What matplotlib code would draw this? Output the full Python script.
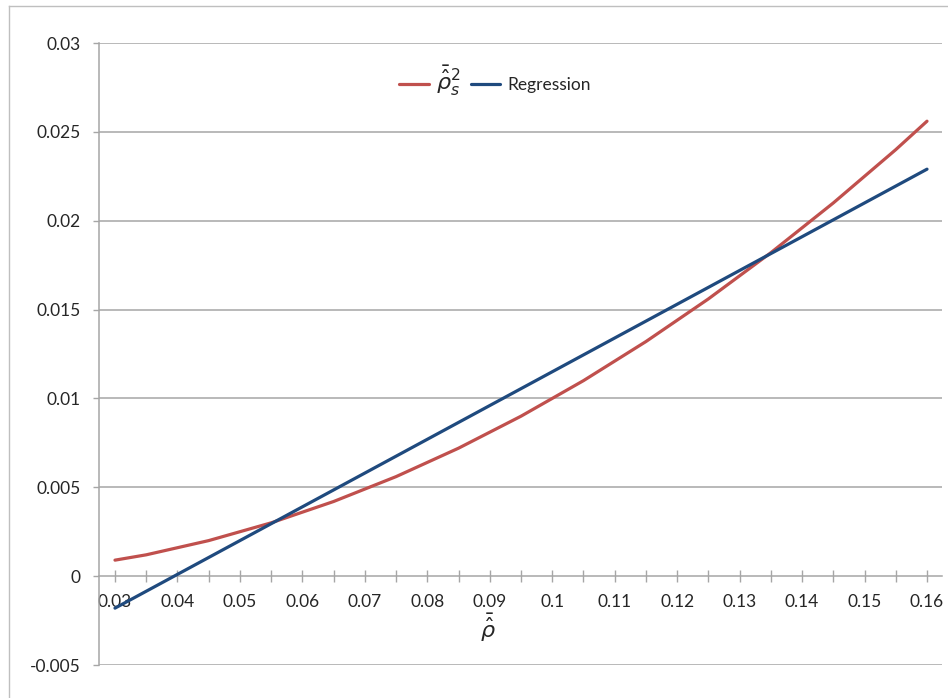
import matplotlib
matplotlib.use("Agg")
import matplotlib.pyplot as plt
from matplotlib.ticker import FixedLocator
from matplotlib.lines import Line2D

# ---- data ----
x_red = [0.030, 0.035, 0.040, 0.045, 0.050, 0.055, 0.060, 0.065, 0.070,
         0.075, 0.080, 0.085, 0.090, 0.095, 0.100, 0.105, 0.110, 0.115,
         0.120, 0.125, 0.130, 0.135, 0.140, 0.145, 0.150, 0.155, 0.160]
y_red = [0.0009, 0.0012, 0.0016, 0.0020, 0.0025, 0.0030, 0.0036, 0.0042,
         0.0049, 0.0056, 0.0064, 0.0072, 0.0081, 0.0090, 0.0100, 0.0110,
         0.0121, 0.0132, 0.0144, 0.0156, 0.0169, 0.0182, 0.0196, 0.0210,
         0.0225, 0.0240, 0.0256]
x_blue = [0.03, 0.04, 0.05, 0.06, 0.07, 0.08, 0.09, 0.10, 0.11, 0.12,
          0.13, 0.14, 0.15, 0.16]
y_blue = [-0.0018, 0.0001, 0.0020, 0.0039, 0.0058, 0.0077, 0.0096, 0.0115,
          0.0134, 0.0153, 0.0172, 0.0191, 0.0210, 0.0229]
x_ticks = [0.03, 0.04, 0.05, 0.06, 0.07, 0.08, 0.09, 0.10, 0.11, 0.12,
           0.13, 0.14, 0.15, 0.16]
x_tick_labels = ["0.03", "0.04", "0.05", "0.06", "0.07", "0.08", "0.09",
                 "0.1", "0.11", "0.12", "0.13", "0.14", "0.15", "0.16"]
x_minor = [0.035, 0.045, 0.055, 0.065, 0.075, 0.085, 0.095, 0.105, 0.115,
           0.125, 0.135, 0.145, 0.155]
y_ticks = [-0.005, 0, 0.005, 0.01, 0.015, 0.02, 0.025, 0.03]
y_tick_labels = ["-0.005", "0", "0.005", "0.01", "0.015", "0.02", "0.025", "0.03"]
red_label = r"$\bar{\hat{\rho}}_s^2$"
blue_label = "Regression"
x_label = r"$\bar{\hat{\rho}}$"

RED = "#C0504D"
BLUE = "#1F4A7E"
GRID = "#A6A6A6"
TXT = "#262626"

plt.rcParams["font.family"] = ["Lato", "DejaVu Sans"]
plt.rcParams["mathtext.fontset"] = "dejavusans"

W, H = 948, 698
fig = plt.figure(figsize=(W / 100, H / 100), dpi=100)
fig.patch.set_facecolor("white")

# chart-area border (top and left visible)
fig.add_artist(Line2D([9 / W, 9 / W], [0, 1 - 6 / H], color="#BFBFBF", lw=1.0))
fig.add_artist(Line2D([9 / W, 1], [1 - 6 / H, 1 - 6 / H], color="#BFBFBF", lw=1.0))

left, right, top, bottom = 99, 942, 43, 665
ax = fig.add_axes([left / W, 1 - bottom / H, (right - left) / W, (bottom - top) / H])

ax.set_xlim(0.02744, 0.1624)
ax.set_ylim(-0.005, 0.03)

for yv in y_ticks:
    if yv != 0:
        ax.axhline(yv, color=GRID, lw=1.1, zorder=1)

ax.plot(x_red, y_red, color=RED, lw=2.3, solid_capstyle="round",
        solid_joinstyle="round", zorder=3, label=red_label)
ax.plot(x_blue, y_blue, color=BLUE, lw=2.3, solid_capstyle="round",
        solid_joinstyle="round", zorder=3, label=blue_label)

for s in ["top", "right"]:
    ax.spines[s].set_visible(False)
ax.spines["bottom"].set_position(("data", 0))
ax.spines["bottom"].set_color(GRID)
ax.spines["bottom"].set_linewidth(1.1)
ax.spines["left"].set_color(GRID)
ax.spines["left"].set_linewidth(1.1)

ax.xaxis.set_major_locator(FixedLocator(x_ticks))
ax.xaxis.set_minor_locator(FixedLocator(x_minor))
ax.set_xticklabels(x_tick_labels)
ax.tick_params(axis="x", which="both", direction="inout", length=9, width=1.0,
               color=GRID, labelsize=12.5, labelcolor=TXT, pad=8)

ax.yaxis.set_major_locator(FixedLocator(y_ticks))
ax.set_yticklabels(y_tick_labels)
ax.tick_params(axis="y", which="major", direction="out", length=4.5, width=1.0,
               color=GRID, labelsize=12.5, labelcolor=TXT, pad=8.5)

fig.text(488 / W, 1 - 628 / H, x_label, ha="center", va="center", fontsize=16, color=TXT)

leg = ax.legend(loc="center", bbox_to_anchor=((495 - left) / (right - left), (bottom - 81) / (bottom - top)),
                ncol=2, frameon=False, fontsize=12.5, handlelength=1.7, handletextpad=0.4,
                columnspacing=0.6)
for t in leg.get_texts():
    t.set_color(TXT)
leg.get_texts()[0].set_fontsize(16)

fig.savefig("out.png", dpi=100, facecolor="white")
